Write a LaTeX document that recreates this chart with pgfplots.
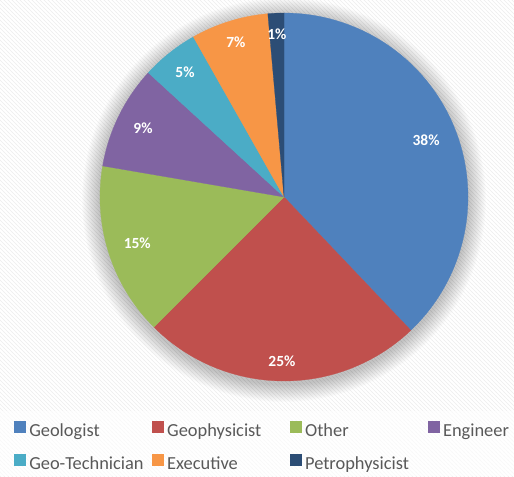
\documentclass[border=0pt]{standalone}
\usepackage{pgfplots}
\pgfplotsset{compat=1.18}
\usepackage{fontspec}
\setmainfont{Carlito}
\usetikzlibrary{patterns}
\definecolor{cGeol}{HTML}{4F81BD}
\definecolor{cGeoph}{HTML}{C0504D}
\definecolor{cOther}{HTML}{9BBB59}
\definecolor{cEng}{HTML}{8064A2}
\definecolor{cTech}{HTML}{4BACC6}
\definecolor{cExec}{HTML}{F79646}
\definecolor{cPetro}{HTML}{2C4D75}
\definecolor{legtext}{HTML}{595959}
% #1 cumulative start (%), #2 share (%), #3 colour, #4 label radius (px), #5 label
\newcommand{\pieslice}[5]{%
  \addplot[fill=#3, draw=#3, line width=0.2pt, domain={90-3.6*(#1+#2)}:{90-3.6*(#1)}, samples=80, variable=\t]
    ({284+184*cos(\t)},{279+184*sin(\t)}) -- (axis cs:284,279) -- cycle;
  \node[text=white, font=\bfseries\fontsize{11.6}{13}\selectfont] at (axis cs:{284+#4*cos(90-3.6*(#1+#2/2))},{279+#4*sin(90-3.6*(#1+#2/2))}) {#5};
}
\begin{document}
\begin{tikzpicture}
\begin{axis}[name=ax,
  width=385.5pt, height=357pt, scale only axis,
  xmin=0, xmax=514, ymin=0, ymax=476,
  hide axis, clip=false,
  legend columns=4,
  legend cell align=left,
  legend image code/.code={\fill[#1] (0pt,-0.5pt) rectangle (8.25pt,7.75pt);},
  legend style={at={(rel axis cs:0.0272,0.1165)}, anchor=north west, draw=none, fill=none,
    inner sep=0pt, outer sep=0pt, row sep=10.5pt, column sep=0pt,
    font=\fontsize{13.8}{16}\selectfont, text=legtext,
    nodes={inner xsep=3pt, inner ysep=1pt},
    /tikz/every even column/.append style={text width=89pt}},
]
% background
\fill[white] (rel axis cs:0,0) rectangle (rel axis cs:1,1);
\fill[pattern=north west lines, pattern color=black!7] (rel axis cs:0,0) rectangle (rel axis cs:1,1);
\fill[white, opacity=0.6] (axis cs:0,0) rectangle (axis cs:514,65);
% soft shadow
\pgfplotsinvokeforeach{1,...,20}{
  \fill[black, opacity=0.011] (axis cs:284,276) circle[radius={184+0.9*#1}];
}
\pieslice{0}{37.9}{cGeol}{153}{38\%}
\addlegendentry{Geologist}
\pieslice{37.9}{24.6}{cGeoph}{164}{25\%}
\addlegendentry{Geophysicist}
\pieslice{62.5}{15.2}{cOther}{154}{15\%}
\addlegendentry{Other}
\pieslice{77.7}{9.1}{cEng}{157}{9\%}
\addlegendentry{Engineer}
\pieslice{86.8}{5.0}{cTech}{159}{5\%}
\addlegendentry{Geo-Technician}
\pieslice{91.8}{6.8}{cExec}{162}{7\%}
\addlegendentry{Executive}
\pieslice{98.6}{1.4}{cPetro}{163}{1\%}
\addlegendentry{Petrophysicist}
\end{axis}
\pgfresetboundingbox
\useasboundingbox (ax.south west) rectangle (ax.north east);
\end{tikzpicture}
\end{document}
